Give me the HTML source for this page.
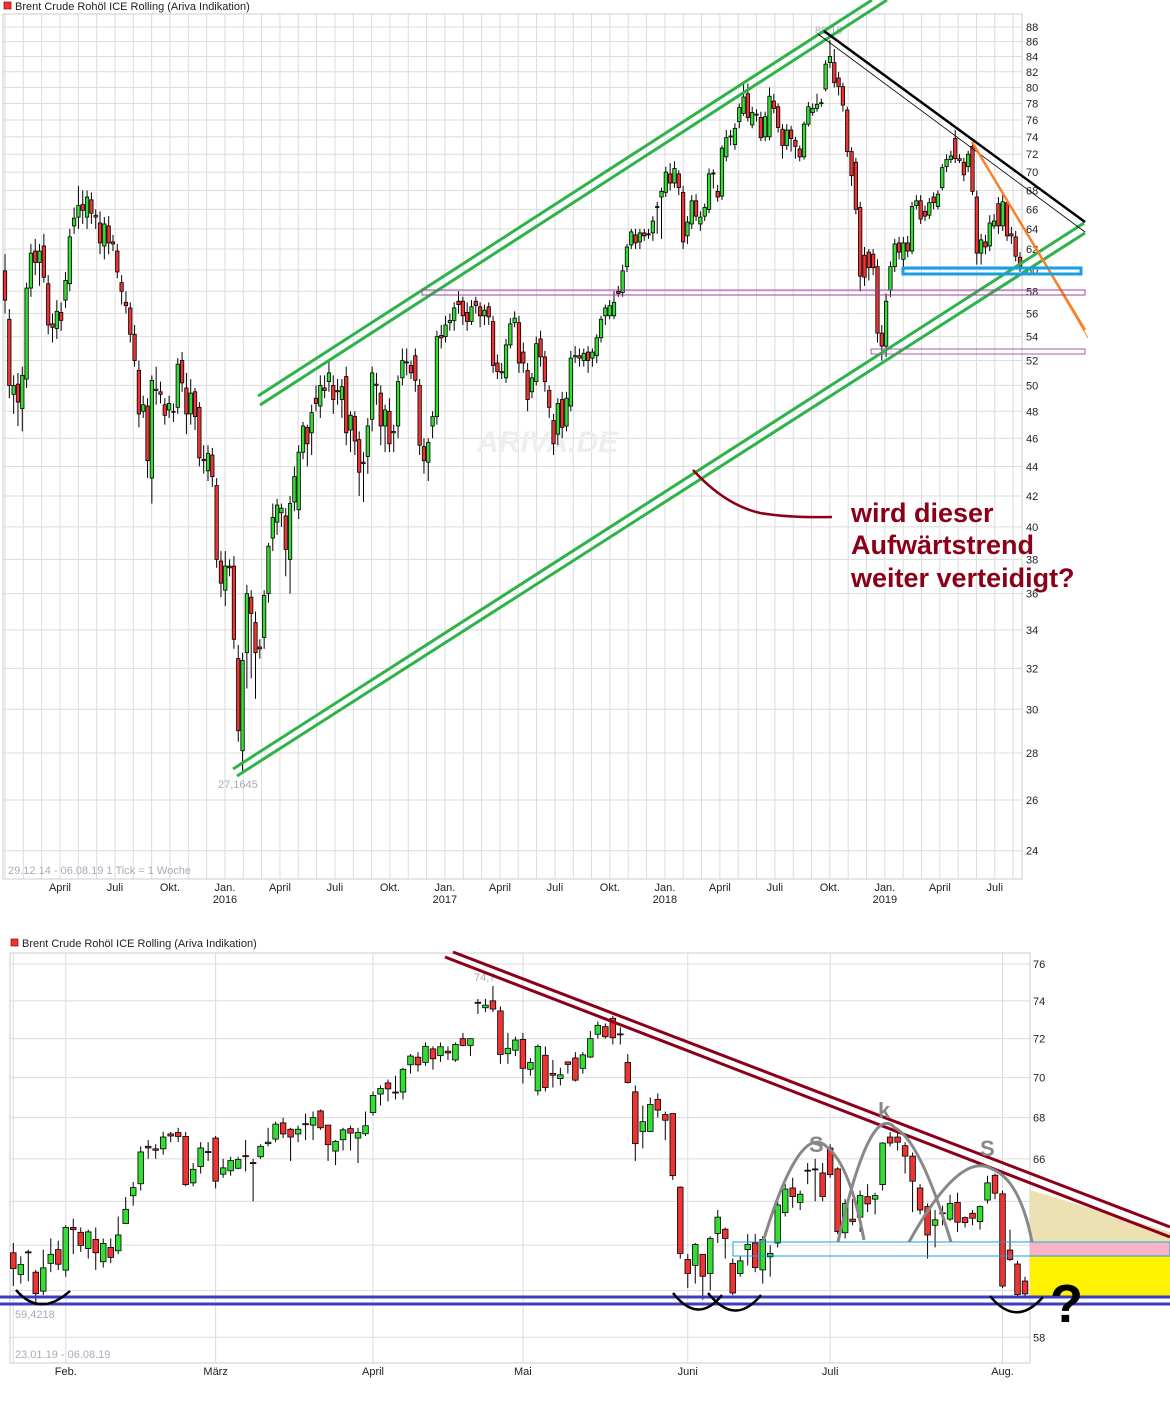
<!DOCTYPE html>
<html><head><meta charset="utf-8"><style>
html,body{margin:0;padding:0;background:#fff;}
svg{display:block;font-family:"Liberation Sans",Arial,sans-serif;}
</style></head><body>
<svg id="chart" width="1170" height="1404" viewBox="0 0 1170 1404" xmlns="http://www.w3.org/2000/svg">
<rect x="0" y="0" width="1170" height="1404" fill="#fff"/>
<g id="topGrid"></g>
<g id="botGrid"></g>
<text x="477" y="452" font-size="30" font-weight="bold" font-style="italic" fill="#eeeeee">ARIVA.DE</text>
<g id="topCandles"></g>
<g id="botCandles"></g>
<g id="topAxis" font-size="11" fill="#222"></g>
<g id="botAxis" font-size="11" fill="#222"></g>

<!-- titles -->
<rect x="4" y="2" width="7" height="7" fill="#e33" stroke="#900" stroke-width="0.7"/>
<text x="15" y="10" font-size="11" fill="#222">Brent Crude Rohöl ICE Rolling (Ariva Indikation)</text>
<rect x="11" y="939" width="7" height="7" fill="#e33" stroke="#900" stroke-width="0.7"/>
<text x="22" y="947" font-size="11" fill="#222">Brent Crude Rohöl ICE Rolling (Ariva Indikation)</text>

<text x="8" y="874" font-size="11" fill="#aab">29.12.14 - 06.08.19   1 Tick = 1 Woche</text>
<text x="218" y="788" font-size="11" fill="#aab">27,1645</text>
<text x="815" y="34" font-size="11" fill="#aab">86,16</text>
<text x="15" y="1318" font-size="11" fill="#aab">59,4218</text>
<text x="474" y="981" font-size="11" fill="#aab">74,7</text>
<text x="15" y="1358" font-size="11" fill="#aab">23.01.19 - 06.08.19</text>

<!-- top drawings -->
<g stroke="#2db34a" stroke-width="3" fill="none">
<line x1="258" y1="396" x2="872" y2="0"/><line x1="260" y1="405" x2="887" y2="0"/>
</g>
<g stroke="#2db34a" stroke-width="3" fill="none">
<line x1="233" y1="769" x2="1084" y2="223"/><line x1="237" y1="776" x2="1085" y2="233"/>
</g>
<line x1="824" y1="31" x2="1085" y2="222" stroke="#000" stroke-width="2.5"/>
<line x1="818" y1="34" x2="1085" y2="232" stroke="#000" stroke-width="0.8"/>
<g stroke="#f7822a" fill="none">
<line x1="972" y1="142" x2="1085" y2="330" stroke-width="2.5"/><line x1="975" y1="146" x2="1088" y2="338" stroke-width="0.8"/>
</g>
<rect x="422" y="290" width="663" height="5" fill="none" stroke="#a040a0" stroke-width="1"/>
<rect x="871" y="349" width="214" height="5" fill="none" stroke="#a060a0" stroke-width="1"/>
<rect x="903" y="268" width="178" height="6" fill="none" stroke="#17a0e0" stroke-width="3"/>
<path d="M693 470 Q725 505 760 513 Q790 518 832 517" fill="none" stroke="#8b0018" stroke-width="2.5"/>
<g font-size="27" font-weight="bold" fill="#8b0018">
<text x="851" y="522">wird dieser</text><text x="851" y="554">Aufwärtstrend</text><text x="851" y="587">weiter verteidigt?</text>
</g>

<!-- bottom drawings -->
<polygon points="1030,1190 1170,1232 1170,1243 1030,1243" fill="#ede0b2"/>
<rect x="1030" y="1243" width="140" height="13" fill="#f8b3c8"/>
<rect x="1030" y="1256" width="140" height="40" fill="#fff200"/>
<rect x="733" y="1242" width="437" height="14" fill="none" stroke="#17a0e0" stroke-width="1"/>
<g stroke="#3c3cc0" stroke-width="3">
<line x1="0" y1="1297" x2="1170" y2="1297"/><line x1="0" y1="1304" x2="1170" y2="1304"/>
</g>
<g stroke="#8b0018" stroke-width="3">
<line x1="453" y1="952" x2="1170" y2="1227"/><line x1="445" y1="957" x2="1170" y2="1237"/>
</g>
<g fill="none" stroke="#888" stroke-width="3">
<path d="M763 1242 Q800 1120 827 1147 Q850 1165 864 1240"/>
<path d="M838 1242 Q870 1100 895 1128 Q920 1140 951 1242"/>
<path d="M909 1242 Q960 1150 992 1169 Q1020 1180 1032 1242"/>
</g>
<g font-size="22" font-weight="bold" fill="#888">
<text x="809" y="1152">S</text><text x="878" y="1118">k</text><text x="980" y="1156">S</text>
</g>
<g fill="none" stroke="#000" stroke-width="2.5">
<path d="M16 1290 Q40 1318 70 1291"/>
<path d="M673 1293 Q698 1325 722 1295"/>
<path d="M708 1293 Q735 1327 761 1295"/>
<path d="M990 1296 Q1016 1328 1043 1297"/>
</g>
<text x="1050" y="1322" font-size="54" font-weight="bold" fill="#000">?</text>
</svg>
<script>
// ---------- TOP (weekly) DATA ----------
const topOpens=[59.9,55.5,49.3,50.1,48.2,50.5,58.3,61.8,60.7,62.3,58.7,55.1,54.7,56.1,57.2,58.7,64.3,65.2,66.5,65.2,67.0,65.4,64.6,62.3,64.3,62.7,61.8,58.8,57.0,56.5,54.2,51.2,48.0,48.4,43.2,49.6,49.5,48.5,48.1,48.0,48.3,52.0,49.8,47.8,49.5,48.3,44.5,43.7,44.8,42.7,37.9,36.2,37.6,37.6,32.5,28.1,32.8,35.8,34.4,33.1,33.6,36.0,39.3,40.3,40.9,40.7,38.0,41.6,41.1,45.0,46.8,46.4,49.0,48.4,49.8,50.3,50.0,49.6,48.9,50.7,46.6,47.6,45.9,44.3,44.7,47.4,50.1,49.4,46.9,48.0,46.4,46.9,50.6,51.9,51.6,52.4,50.0,45.4,44.3,46.9,47.6,54.1,54.0,55.2,55.4,57.1,57.1,56.1,55.3,57.1,56.6,55.8,56.6,55.3,51.8,51.1,50.6,53.3,55.2,55.2,52.7,51.2,49.5,50.3,53.8,52.3,49.6,47.3,46.3,48.9,46.9,48.4,52.3,52.4,52.0,52.7,52.2,52.4,53.9,55.8,55.8,55.8,58.0,57.9,60.3,62.4,63.4,62.7,63.6,63.5,63.6,66.2,67.3,67.8,69.8,68.8,69.8,67.8,63.3,64.5,66.9,64.5,65.3,66.0,69.9,67.9,67.4,71.7,74.0,73.1,75.8,76.8,79.2,75.4,76.7,76.3,74.0,74.0,78.3,77.6,74.9,73.0,74.8,73.6,72.6,71.7,75.5,76.9,77.4,78.0,79.8,83.2,83.2,81.2,80.1,77.2,72.3,71.1,66.2,61.4,61.7,61.5,60.3,54.3,53.2,58.1,60.3,62.6,61.0,62.6,61.8,66.4,66.9,65.8,65.4,67.3,66.3,68.3,70.6,71.4,73.8,71.5,71.1,70.6,72.9,67.3,61.6,62.7,62.3,64.3,66.6,64.3,66.7,63.5,63.2,61.2];
const topCloses=[57.2,50.0,50.0,48.7,50.8,58.3,61.6,60.7,61.8,59.3,55.0,54.8,56.2,55.4,59.0,63.2,65.1,66.4,65.9,67.3,65.6,65.2,62.6,64.5,62.6,62.5,59.8,58.0,56.7,54.2,52.0,47.8,48.5,44.4,50.4,49.7,49.3,47.7,48.6,48.0,51.7,50.2,47.8,49.4,47.6,44.6,44.4,44.9,43.3,38.0,36.6,37.6,37.5,33.5,29.0,32.4,36.0,34.9,32.8,33.0,35.9,38.8,40.6,41.4,41.2,38.6,41.5,43.3,45.0,46.9,45.6,47.9,48.6,50.0,49.6,51.0,48.9,49.5,49.9,46.4,47.7,45.8,43.6,44.2,46.9,51.0,50.0,46.9,48.1,45.6,46.5,50.3,52.0,51.8,51.0,50.4,45.5,44.4,45.7,47.6,54.0,53.9,55.0,55.4,56.5,56.8,55.8,55.3,56.6,56.7,55.8,56.3,55.7,51.6,51.1,51.0,53.3,55.1,55.6,51.8,51.8,48.9,50.6,53.4,52.3,50.3,48.3,45.6,48.6,46.8,49.0,52.2,52.4,52.2,52.6,52.0,52.7,53.9,55.5,56.5,56.7,57.0,57.8,59.9,62.2,63.7,62.6,63.6,63.3,63.4,64.8,66.3,67.9,70.0,68.8,70.4,68.3,62.7,64.7,66.9,65.3,65.2,66.2,69.8,69.8,67.3,72.7,73.9,74.1,75.0,77.5,78.8,76.3,76.9,76.6,73.9,76.4,78.9,77.4,75.1,73.0,74.8,73.8,72.9,71.7,75.5,77.6,77.4,77.9,78.1,83.0,84.0,80.6,80.1,77.8,72.3,69.6,66.0,59.4,59.3,60.2,60.2,54.3,53.2,57.1,60.3,62.5,61.7,62.6,61.8,66.3,66.9,65.0,65.3,66.7,66.7,67.6,70.5,71.4,71.8,71.5,71.3,69.7,72.0,67.9,61.6,62.9,62.2,64.6,64.8,64.3,66.8,63.3,63.3,61.3,60.3];
const topHighs=[61.5,56.4,50.8,51.0,51.5,58.8,62.5,63.0,62.5,63.5,59.5,56.0,57.2,57.0,59.8,64.0,66.2,68.5,68.0,68.0,67.8,66.0,65.8,65.2,65.3,63.4,62.5,59.5,58.0,57.0,55.0,52.0,49.2,49.0,50.8,51.5,50.3,49.0,49.2,48.6,52.2,52.7,51.0,50.5,49.8,48.7,45.5,45.5,45.3,43.2,38.5,38.5,38.0,38.2,33.2,32.8,36.5,36.2,35.0,33.5,36.2,39.0,41.5,41.8,41.5,41.2,42.0,44.0,45.5,47.2,47.0,48.5,50.0,50.8,50.8,52.0,50.8,50.5,50.5,51.5,48.0,48.0,46.5,45.0,47.5,51.5,51.0,50.0,48.5,49.0,47.0,50.8,53.0,53.0,52.0,53.0,50.5,46.0,46.0,48.0,54.5,55.0,55.8,56.0,57.0,58.0,57.5,57.0,57.2,57.5,57.0,56.8,57.0,55.8,52.5,51.8,53.8,55.6,56.2,55.8,53.5,51.8,51.0,54.0,54.5,52.8,50.0,47.8,49.0,49.5,49.5,52.8,53.2,53.0,53.0,53.2,53.0,54.2,55.8,56.8,57.2,58.0,58.5,60.5,62.5,64.0,64.0,64.0,64.0,64.0,65.3,66.8,68.3,70.6,71.0,71.2,70.2,68.5,65.3,67.5,67.6,65.8,66.6,70.4,70.3,68.6,73.0,74.8,74.8,75.6,78.0,80.5,80.5,77.6,77.3,77.0,77.0,80.0,79.2,78.0,75.5,75.5,75.3,74.0,73.0,75.8,78.2,78.0,79.2,78.6,83.5,86.2,85.0,82.0,80.6,77.6,72.8,71.6,66.8,62.2,62.0,62.0,61.0,55.0,57.8,60.8,63.0,63.2,63.2,63.3,66.8,67.5,67.5,66.4,67.2,67.8,68.0,70.9,72.0,72.4,74.8,72.0,71.6,72.4,73.4,68.0,63.5,63.4,65.4,65.5,67.3,67.5,67.0,64.2,63.8,61.7];
const topLows=[56.0,49.0,47.8,46.9,46.5,49.8,57.5,59.5,58.5,58.8,54.2,53.5,53.8,54.5,56.5,58.0,63.5,64.0,64.5,64.0,64.5,64.0,61.5,61.0,61.5,61.8,59.2,56.8,56.0,53.5,51.5,46.8,47.5,43.2,41.5,48.5,48.6,47.0,47.5,47.2,47.8,49.5,46.3,47.0,46.6,44.0,43.5,43.0,42.6,37.5,35.8,35.3,37.0,33.0,28.5,27.2,31.0,31.5,30.5,32.5,33.0,35.5,38.5,39.5,40.0,37.0,36.0,41.0,40.5,44.5,44.0,44.8,48.0,47.5,49.0,49.5,47.8,48.5,47.5,45.5,45.0,44.8,42.0,41.6,43.5,46.5,48.5,45.5,45.0,45.0,45.0,46.0,50.0,50.8,50.5,49.5,44.8,43.5,43.0,46.0,47.0,53.0,53.5,54.5,54.5,56.0,55.0,54.5,55.0,56.0,54.8,55.0,55.0,51.0,50.5,50.5,50.2,53.0,54.8,51.0,51.0,48.0,49.0,50.0,51.5,49.5,47.5,44.8,45.5,46.0,46.5,48.0,51.8,51.5,51.5,51.0,51.5,51.8,53.5,55.0,55.5,55.5,57.5,57.5,59.8,62.0,62.0,62.0,62.8,63.0,62.8,63.5,63.0,67.3,68.0,68.3,67.5,62.0,62.5,64.0,64.8,63.8,64.8,65.6,68.2,66.8,67.0,71.2,73.0,72.5,75.0,76.5,75.8,75.0,75.8,73.5,73.5,73.6,76.8,74.5,71.5,72.5,72.3,71.5,71.2,71.4,75.2,76.5,77.0,77.6,79.5,82.5,80.0,79.0,77.0,71.7,68.5,65.5,58.0,58.5,59.0,59.5,53.5,52.0,52.3,57.5,59.8,61.0,60.2,61.2,61.5,66.0,64.5,64.8,65.0,66.0,66.0,68.0,70.0,71.0,71.0,71.0,69.0,70.0,67.5,60.5,60.5,61.5,61.8,64.0,63.5,63.8,62.8,62.5,60.8,59.8];
const topTicks=[88,86,84,82,80,78,76,74,72,70,68,66,64,62,60,58,56,54,52,50,48,46,44,42,40,38,36,34,32,30,28,26,24];
const topMonthLabels=["April","Juli","Okt.","Jan.","April","Juli","Okt.","Jan.","April","Juli","Okt.","Jan.","April","Juli","Okt.","Jan.","April","Juli"];
const topMonthIdx=[3,6,9,12,15,18,21,24,27,30,33,36,39,42,45,48,51,54];
const topYearLabels=["","","","2016","","","","2017","","","","2018","","","","2019","",""];

// ---------- BOTTOM (daily) DATA ----------
const botOpens=[61.66,60.7,61.7,60.8,59.97,61.19,61.8,60.89,62.8,62.58,61.85,62.26,61.26,61.9,61.75,62.98,64.26,64.82,66.6,66.48,66.48,67.2,67.27,67.08,64.86,65.63,66.35,67.0,65.27,65.43,65.55,66.15,65.82,66.1,66.73,66.95,67.74,67.43,67.2,67.7,67.63,68.33,67.63,66.37,66.92,67.46,67.0,67.21,68.25,69.17,69.73,69.27,69.27,70.65,71.04,70.77,71.47,71.12,71.35,70.9,72.0,71.65,73.92,73.63,74.0,73.46,71.22,71.4,71.96,70.42,69.33,71.14,70.21,69.95,70.8,71.0,70.47,71.05,72.23,72.63,73.07,72.25,70.77,69.28,67.32,67.32,68.9,68.15,68.2,64.66,61.36,61.1,61.59,60.74,62.53,62.72,61.19,60.74,61.8,62.1,60.9,61.48,62.1,63.48,64.62,63.95,65.46,65.52,65.33,66.52,65.52,62.56,63.18,63.27,64.22,64.1,64.78,67.05,67.05,66.63,66.13,64.62,63.76,62.9,63.47,63.18,63.95,63.25,63.45,63.07,64.06,65.22,64.35,61.78,61.16,60.41];
const botCloses=[60.96,61.14,61.66,59.86,60.99,61.59,61.15,62.8,62.7,61.99,62.6,61.66,62.08,61.45,62.46,63.63,64.64,66.33,66.52,66.41,67.05,67.1,67.08,64.78,65.5,66.52,66.3,64.94,65.57,65.92,65.97,66.13,65.8,66.6,66.8,67.68,67.2,67.05,67.43,67.67,68.0,67.5,66.68,66.84,67.4,67.24,67.27,67.6,69.1,69.45,69.43,69.25,70.42,71.1,70.65,71.6,70.96,71.58,71.26,71.7,71.65,72.0,73.9,73.77,73.56,71.18,71.5,71.93,70.47,70.77,71.6,69.5,70.12,70.14,70.67,69.87,71.16,72.0,72.7,72.1,72.05,72.23,69.75,66.73,67.8,68.65,68.37,67.87,65.2,61.63,60.74,62.03,60.62,62.3,63.27,62.3,59.89,61.3,62.03,61.0,62.26,61.63,63.83,64.57,64.22,64.33,65.44,65.5,64.22,65.25,62.61,63.9,63.07,64.27,63.88,64.27,66.76,66.76,66.8,66.13,64.94,63.6,62.46,63.15,63.45,63.9,63.04,63.02,63.22,63.76,64.86,64.38,60.19,61.36,59.82,59.85];
const botHighs=[62.1,61.5,61.8,60.9,61.8,62.3,62.2,62.9,63.2,62.8,62.7,62.8,62.3,62.3,63.3,64.2,64.9,66.6,66.9,66.7,67.3,67.3,67.5,67.3,65.8,66.8,66.8,67.1,66.0,66.1,66.1,66.9,66.0,66.7,67.5,67.8,68.0,67.5,67.6,68.2,68.3,68.4,67.5,66.9,67.5,67.6,67.5,68.3,69.3,69.6,69.9,70.1,70.5,71.2,71.3,71.8,71.6,71.8,71.6,71.8,72.3,72.0,74.1,74.1,74.8,73.7,72.3,72.1,72.3,71.0,71.7,71.6,70.9,70.5,70.8,71.3,71.3,72.4,72.9,72.8,73.2,72.6,71.2,69.6,68.6,69.0,69.2,68.3,68.2,64.7,61.6,62.1,61.6,62.4,63.6,62.8,61.4,61.5,62.5,62.5,62.4,62.0,64.0,64.8,65.1,64.5,65.8,66.0,65.8,66.7,65.6,64.1,64.1,64.5,64.8,64.4,66.8,67.3,67.3,66.8,66.3,64.8,63.9,63.6,63.8,64.3,64.4,63.3,63.6,63.8,65.2,65.3,64.5,62.7,61.3,60.6];
const botLows=[60.2,60.3,60.4,59.4,59.8,60.8,60.9,60.6,61.6,61.7,61.4,60.9,61.0,61.2,61.6,63.1,63.8,64.5,66.0,66.0,66.2,66.8,66.8,64.7,64.7,65.3,65.9,64.6,65.1,65.2,65.5,65.4,64.0,66.0,66.6,66.8,67.0,65.9,66.8,66.9,66.9,67.4,65.9,65.7,66.4,66.4,65.8,67.1,68.1,68.6,68.8,68.9,68.9,70.2,70.3,70.6,70.4,70.8,70.9,70.8,71.6,71.1,73.3,73.4,73.4,70.7,70.7,71.1,69.7,70.1,69.1,69.3,69.5,69.6,70.2,69.8,70.2,71.0,72.0,72.0,71.7,71.7,69.7,65.9,66.5,67.3,68.0,66.9,65.0,61.4,60.1,60.3,59.6,60.0,62.1,61.4,59.8,60.6,61.1,60.8,60.3,60.6,61.9,63.3,63.7,63.6,64.8,64.0,64.0,65.1,62.5,62.3,62.9,62.6,63.5,63.4,64.5,66.6,66.4,65.3,63.5,63.4,61.4,61.9,62.9,63.1,62.6,62.8,62.9,62.7,63.9,64.1,60.1,61.3,59.7,59.7];
const botTicks=[76,74,72,70,68,66,64,62,60,58];
const botMonthLabels=["Feb.","März","April","Mai","Juni","Juli","Aug."];
const botMonthDay=[7,27,48,68,90,109,132];

const NS="http://www.w3.org/2000/svg";
function mk(tag,attrs,parent){const e=document.createElementNS(NS,tag);for(const k in attrs)e.setAttribute(k,attrs[k]);parent.appendChild(e);return e;}

// axis functions
const TOP={x0:3,x1:1022,y0:14,y1:879};
function yTop(p){return 27+634*Math.log(88/p);}
function xTop(i){return 5+i*((1020-5)/(topCloses.length-1));}
function xMonthTop(m){return 5+m*18.33;}
const BOT={x0:10,x1:1030,y0:953,y1:1363};
function yBot(p){return 964+1381*Math.log(76/p);}
function xBot(i){return 13.3+i*((1025-13.3)/(botCloses.length-1));}

const tg=document.getElementById('topGrid');
for(let p=24;p<=88;p+=2){const l=mk('line',{x1:TOP.x0,x2:TOP.x1,y1:yTop(p),y2:yTop(p),stroke:'#dcdcdc','stroke-width':1},tg);

}
for(let m=0;m<=55;m++){const l=mk('line',{x1:xMonthTop(m),x2:xMonthTop(m),y1:TOP.y0,y2:TOP.y1,stroke:'#dcdcdc','stroke-width':1},tg);

}
mk('rect',{x:TOP.x0,y:TOP.y0,width:TOP.x1-TOP.x0,height:TOP.y1-TOP.y0,fill:'none',stroke:'#ccc'},tg);

const ta=document.getElementById('topAxis');
topTicks.forEach(t=>{const e=mk('text',{x:1026,y:yTop(t)+4},ta);e.textContent=t;

});
topMonthLabels.forEach((lab,k)=>{const x=xMonthTop(topMonthIdx[k]);
const e=mk('text',{x:x,y:891,'text-anchor':'middle'},ta);e.textContent=lab;


if(topYearLabels[k]){const y=mk('text',{x:x,y:903,'text-anchor':'middle'},ta);y.textContent=topYearLabels[k];

}});

function drawCandles(g,O,H,L,C,xf,yf,w,name){
for(let i=0;i<C.length;i++){
const x=xf(i),up=C[i]>=O[i];
const wk=mk('line',{x1:x,x2:x,y1:yf(H[i]),y2:yf(L[i]),stroke:'#000','stroke-width':1},g);


const top=yf(Math.max(O[i],C[i])),bot=yf(Math.min(O[i],C[i]));
const b=mk('rect',{x:x-w/2,y:top,width:w,height:Math.max(bot-top,1),fill:up?'#33dd33':'#ee3333',stroke:'#000','stroke-width':0.8},g);

}}
drawCandles(document.getElementById('topCandles'),topOpens,topHighs,topLows,topCloses,xTop,yTop,3.4,'weekly-candle');

const bg=document.getElementById('botGrid');
for(let p=58;p<=76;p+=2){const l=mk('line',{x1:BOT.x0,x2:BOT.x1,y1:yBot(p),y2:yBot(p),stroke:'#dcdcdc','stroke-width':1},bg);

}
[0].concat(botMonthDay).forEach(d=>{const x=xBot(d);const l=mk('line',{x1:x,x2:x,y1:BOT.y0,y2:BOT.y1,stroke:'#dcdcdc','stroke-width':1},bg);

});
mk('rect',{x:BOT.x0,y:BOT.y0,width:BOT.x1-BOT.x0,height:BOT.y1-BOT.y0,fill:'none',stroke:'#ccc'},bg);

const ba=document.getElementById('botAxis');
botTicks.forEach(t=>{const e=mk('text',{x:1033,y:yBot(t)+4},ba);e.textContent=t;

});
botMonthLabels.forEach((lab,k)=>{const e=mk('text',{x:xBot(botMonthDay[k]),y:1375,'text-anchor':'middle'},ba);e.textContent=lab;

});
drawCandles(document.getElementById('botCandles'),botOpens,botHighs,botLows,botCloses,xBot,yBot,5.6,'daily-candle');
</script>
</body></html>
